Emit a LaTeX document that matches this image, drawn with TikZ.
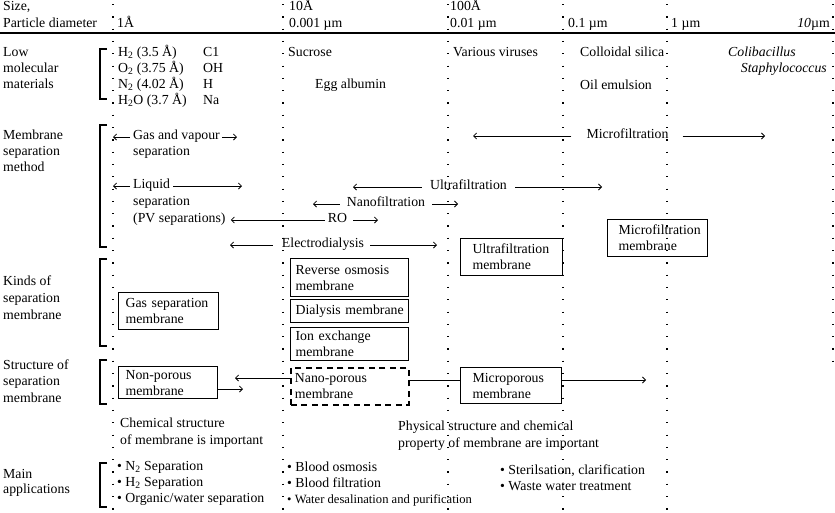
\documentclass[tikz,border=0pt]{standalone}
\usepackage{fontspec}
\setmainfont{Liberation Serif}
\usetikzlibrary{arrows.meta,calc}
\newcommand\dfont{\fontsize{13.8}{16}\selectfont\hyphenpenalty=10000\exhyphenpenalty=10000}
\newcommand\sfont{\fontsize{12.6}{16}\selectfont}
\hfuzz=200pt
\hbadness=10000
\begin{document}
\begin{tikzpicture}[x=1pt,y=-1pt,
  txt/.style={anchor=mid west, inner sep=0pt, font=\dfont},
  txte/.style={anchor=mid east, inner sep=0pt, font=\dfont},
  lab/.style={anchor=mid, inner sep=0pt, font=\dfont},
  box/.style={draw, line width=1.25pt, anchor=north west, align=left, font=\dfont, inner ysep=0pt},
  dbox/.style={box, dash pattern=on 6pt off 4.5pt, line width=1.9pt},
  dotcol/.style={line width=1.2pt, dash pattern=on 1.2pt off 11.1pt},
  brk/.style={line width=1.1pt},
  arr/.style={-{Straight Barb[length=3pt,width=6pt]}, line width=0.8pt}]
\useasboundingbox (0,0) rectangle (835,512);
\fill[white] (0,0) rectangle (835,512);

% dotted size columns
\foreach \x in {113,283,448,563,667} \draw[dotcol] (\x,4) -- (\x,510);
\draw[dotcol] (833,4) -- (833,367);

% header rule
\draw[line width=1.6pt] (0,33) -- (835,33);

% header
\node[txt] (sz1) at (3,8) {Size,};
\node[txt] (sz2) at (3,25) {Particle diameter};
\node[txt] (h1) at (117,25) {1Å};
\node[txt] (h10a) at (289,8) {10Å};
\node[txt] (h10b) at (289,25) {0.001 µm};
\node[txt] (h100a) at (450,8) {100Å};
\node[txt] (h100b) at (450,25) {0.01 µm};
\node[txt] (h01) at (568,25) {0.1 µm};
\node[txt] (h1u) at (671,25) {1 µm};
\node[txte] (h10u) at (830,25) {\textit{10}µm};

% brackets
\draw[brk] (107,49) -- (100,49) -- (100,99) -- (107,99);
\draw[brk] (107,125) -- (100,125) -- (100,247) -- (107,247);
\draw[brk] (107,259) -- (100,259) -- (100,346) -- (107,346);
\draw[brk] (107,360) -- (100,360) -- (100,404) -- (107,404);
\draw[brk] (107,463) -- (100,463) -- (100,507) -- (107,507);

% row 1: low molecular materials
\node[txt] (low1) at (3,54) {Low};
\node[txt] (low2) at (3,70) {molecular};
\node[txt] (low3) at (3,86) {materials};
\node[txt] (mH2) at (118,54) {H\textsubscript{2} (3.5 Å)};
\node[txt] (mO2) at (118,70) {O\textsubscript{2} (3.75 Å)};
\node[txt] (mN2) at (118,86) {N\textsubscript{2} (4.02 Å)};
\node[txt] (mH2O) at (118,102) {H\textsubscript{2}O (3.7 Å)};
\node[txt] (mC1) at (203,54) {C1};
\node[txt] (mOH) at (203,70) {OH};
\node[txt] (mH) at (203,86) {H};
\node[txt] (mNa) at (203,102) {Na};
\node[txt] (suc) at (288,54) {Sucrose};
\node[txt] (egg) at (315,86) {Egg albumin};
\node[txt] (vir) at (453,54) {Various viruses};
\node[txt] (col) at (580,54) {Colloidal silica};
\node[txt] (oil) at (580,87) {Oil emulsion};
\node[txt] (coli) at (728,54) {\itshape Colibacillus};
\node[txte] (staph) at (827,70) {\itshape Staphylococcus};

% row 2: membrane separation method
\node[txt] (msm1) at (3,137) {Membrane};
\node[txt] (msm2) at (3,153) {separation};
\node[txt] (msm3) at (3,169) {method};

\node[txt] (gas1) at (133,137) {Gas and vapour};
\node[txt] (gas2) at (133,153) {separation};
\coordinate (gasL) at (113,137);
\coordinate (gasR) at (237,137);
\draw[arr, shorten <=3pt] (gas1.mid west) -- (gasL);
\draw[arr, shorten <=2pt] (gas1.mid east) -- (gasR);

\node[txt] (liq1) at (133,186) {Liquid};
\node[txt] (liq2) at (133,203) {separation};
\node[txt] (liq3) at (133,220) {(PV separations)};
\coordinate (liqL) at (113,186);
\coordinate (liqR) at (242,186);
\draw[arr, shorten <=3pt] (liq1.mid west) -- (liqL);
\draw[arr, shorten <=3pt] (liq1.mid east) -- (liqR);

\node[lab] (mf) at (627.5,136) {Microfiltration};
\coordinate (mfL) at (473,136);
\coordinate (mfR) at (765,136);
\draw[arr, shorten <=15pt] (mf.mid west) -- (mfL);
\draw[arr, shorten <=14pt] (mf.mid east) -- (mfR);

\node[lab] (uf) at (468.5,187) {Ultrafiltration};
\coordinate (ufL) at (353,187);
\coordinate (ufR) at (602,187);
\draw[arr, shorten <=8pt] (uf.mid west) -- (ufL);
\draw[arr, shorten <=8pt] (uf.mid east) -- (ufR);

\node[lab] (nf) at (386,204) {Nanofiltration};
\coordinate (nfL) at (313,204);
\coordinate (nfR) at (458,204);
\draw[arr, shorten <=7pt] (nf.mid west) -- (nfL);
\draw[arr, shorten <=7pt] (nf.mid east) -- (nfR);

\node[lab] (ro) at (337.5,220) {RO};
\coordinate (roR) at (378,220);
\draw[arr, shorten <=3pt, shorten >=5pt] (ro.mid west) -- (liq3.mid east);
\draw[arr, shorten <=6pt] (ro.mid east) -- (roR);

\node[lab] (ed) at (323,245) {Electrodialysis};
\coordinate (edL) at (230,245);
\coordinate (edR) at (437,245);
\draw[arr, shorten <=9pt] (ed.mid west) -- (edL);
\draw[arr, shorten <=6pt] (ed.mid east) -- (edR);

% row 3: kinds of separation membrane
\node[txt] (kin1) at (3,283) {Kinds of};
\node[txt] (kin2) at (3,300) {separation};
\node[txt] (kin3) at (3,317) {membrane};

\node[box, minimum width=100pt, minimum height=37pt, inner xsep=7pt, text width=86pt] (gasm) at (118,292) {Gas~separation\\membrane};
\node[box, minimum width=118pt, minimum height=38pt, inner xsep=5pt, text width=108pt] (rom) at (290,258) {Reverse~osmosis\\membrane};
\node[box, minimum width=118pt, minimum height=23pt, inner xsep=5pt, text width=108pt] (dim) at (290,299) {Dialysis~membrane};
\node[box, minimum width=118pt, minimum height=33pt, inner xsep=5pt, text width=108pt] (iem) at (290,327) {Ion~exchange\\membrane};
\node[box, minimum width=102pt, minimum height=37pt, inner xsep=12pt, text width=78pt] (ufm) at (460,238) {Ultrafiltration\\membrane};
\node[box, minimum width=100pt, minimum height=37pt, inner xsep=11pt, text width=78pt] (mfm) at (607,219) {Microfiltration\\membrane};

% row 4: structure of separation membrane
\node[txt] (str1) at (3,367) {Structure of};
\node[txt] (str2) at (3,383) {separation};
\node[txt] (str3) at (3,400) {membrane};

\node[box, minimum width=99pt, minimum height=32pt, inner xsep=7pt, text width=85pt] (nonp) at (118,366) {Non-porous\\membrane};
\node[dbox, minimum width=118pt, minimum height=37pt, inner xsep=4pt, text width=110pt] (nano) at (290,367) {Nano-porous\\membrane};
\node[box, minimum width=101pt, minimum height=36pt, inner xsep=12pt, text width=77pt] (micro) at (460,367) {Microporous\\membrane};

\coordinate (npL) at (235,378);
\coordinate (npR) at (243,389);
\coordinate (mpR) at (646,380);
\draw[arr] (nano.west |- npL) -- (npL);
\draw[arr] (nonp.east |- npR) -- (npR);
\draw[line width=0.8pt] (nano.east |- mpR) -- (micro.west |- mpR);
\draw[arr] (micro.east |- mpR) -- (mpR);

% importance notes
\node[txt] (chem1) at (120,425) {Chemical structure};
\node[txt] (chem2) at (120,442) {of membrane is important};
\node[txt] (phys1) at (398,428) {Physical structure and chemical};
\node[txt] (phys2) at (398,445) {property of membrane are important};

% row 5: main applications
\node[txt] (app1) at (3,476) {Main};
\node[txt] (app2) at (3,491) {applications};
\node[txt] (ga1) at (117,468) {• N\textsubscript{2} Separation};
\node[txt] (ga2) at (117,484) {• H\textsubscript{2} Separation};
\node[txt] (ga3) at (117,500) {• Organic/water separation};
\node[txt] (bl1) at (287,469) {• Blood osmosis};
\node[txt] (bl2) at (287,485) {• Blood filtration};
\node[txt, font=\sfont] (bl3) at (287,501) {• Water desalination and purification};
\node[txt] (st1) at (500,472) {• Sterilsation, clarification};
\node[txt] (st2) at (500,488) {• Waste water treatment};
\end{tikzpicture}
\end{document}
